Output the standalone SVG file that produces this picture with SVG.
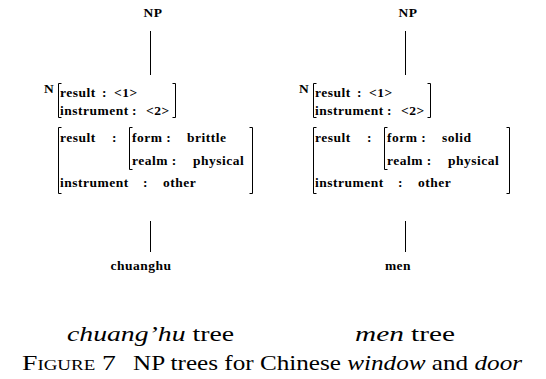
<svg xmlns="http://www.w3.org/2000/svg" width="546" height="379" viewBox="0 0 546 379">
  <style>
    .lbl { font-family: 'Liberation Serif', 'DejaVu Serif', serif; font-weight: bold; font-size: 13.5px; letter-spacing: 0.5px; fill: #000; }
    .cap { font-family: 'Liberation Serif', 'DejaVu Serif', serif; font-size: 22px; fill: #000; }
    .it { font-style: italic; }
    .sc { font-variant: small-caps; }
    .edge { stroke: #000; stroke-width: 1; fill: none; }
    .brk { stroke: #000; stroke-width: 1; fill: none; }
  </style>

  <!-- connectors of both trees -->
  <g id="connectors">
    <line class="edge" x1="150.5" y1="31" x2="150.5" y2="75"/>
    <line class="edge" x1="150.5" y1="221" x2="150.5" y2="252"/>
    <line class="edge" x1="405.5" y1="31" x2="405.5" y2="75"/>
    <line class="edge" x1="405.5" y1="221" x2="405.5" y2="252"/>
  </g>

  <!-- chuanghu tree -->
  <g id="np-left">
    <text class="lbl" x="153" y="17" text-anchor="middle">NP</text>
  </g>
  <g id="n-left">
    <text class="lbl" x="44" y="93">N</text>
    <path class="brk" d="M61.5,83.5 H58.5 V117.5 H61.5"/>
    <path class="brk" d="M172.5,83.5 H175.5 V117.5 H172.5"/>
    <text class="lbl" x="60" y="97">result</text>
    <text class="lbl" x="102" y="97">:</text>
    <text class="lbl" x="114" y="97">&lt;1&gt;</text>
    <text class="lbl" x="60" y="115">instrument</text>
    <text class="lbl" x="132" y="115">:</text>
    <text class="lbl" x="146" y="115">&lt;2&gt;</text>
    <path class="brk" d="M61.5,127.5 H58.5 V193.5 H61.5"/>
    <path class="brk" d="M249.5,127.5 H252.5 V193.5 H249.5"/>
    <text class="lbl" x="60" y="142">result</text>
    <text class="lbl" x="112" y="142">:</text>
    <path class="brk" d="M132.5,127.5 H129.5 V169.5 H132.5"/>
    <text class="lbl" x="132" y="142">form :</text>
    <text class="lbl" x="187" y="142">brittle</text>
    <text class="lbl" x="132" y="165">realm :</text>
    <text class="lbl" x="193" y="165">physical</text>
    <text class="lbl" x="60" y="187">instrument</text>
    <text class="lbl" x="143" y="187">:</text>
    <text class="lbl" x="163" y="187">other</text>
  </g>
  <g id="word-left">
    <text class="lbl" x="141" y="270" text-anchor="middle">chuanghu</text>
  </g>

  <!-- men tree -->
  <g id="np-right">
    <text class="lbl" x="408" y="17" text-anchor="middle">NP</text>
  </g>
  <g id="n-right">
    <text class="lbl" x="299" y="93">N</text>
    <path class="brk" d="M316.5,83.5 H313.5 V117.5 H316.5"/>
    <path class="brk" d="M427.5,83.5 H430.5 V117.5 H427.5"/>
    <text class="lbl" x="315" y="97">result</text>
    <text class="lbl" x="357" y="97">:</text>
    <text class="lbl" x="369" y="97">&lt;1&gt;</text>
    <text class="lbl" x="315" y="115">instrument</text>
    <text class="lbl" x="387" y="115">:</text>
    <text class="lbl" x="401" y="115">&lt;2&gt;</text>
    <path class="brk" d="M316.5,127.5 H313.5 V193.5 H316.5"/>
    <path class="brk" d="M506.5,127.5 H509.5 V193.5 H506.5"/>
    <text class="lbl" x="315" y="142">result</text>
    <text class="lbl" x="367" y="142">:</text>
    <path class="brk" d="M387.5,127.5 H384.5 V169.5 H387.5"/>
    <text class="lbl" x="387" y="142">form :</text>
    <text class="lbl" x="442" y="142">solid</text>
    <text class="lbl" x="387" y="165">realm :</text>
    <text class="lbl" x="448" y="165">physical</text>
    <text class="lbl" x="315" y="187">instrument</text>
    <text class="lbl" x="398" y="187">:</text>
    <text class="lbl" x="418" y="187">other</text>
  </g>
  <g id="word-right">
    <text class="lbl" x="398" y="270" text-anchor="middle">men</text>
  </g>

  <!-- captions -->
  <text class="cap" x="67" y="341" textLength="167" lengthAdjust="spacingAndGlyphs"><tspan class="it">chuang’hu</tspan> tree</text>
  <text class="cap" x="355" y="341" textLength="100" lengthAdjust="spacingAndGlyphs"><tspan class="it">men</tspan> tree</text>
  <text class="cap sc" x="22" y="370" textLength="94" lengthAdjust="spacingAndGlyphs">Figure 7</text>
  <text class="cap" x="133" y="370" textLength="389" lengthAdjust="spacingAndGlyphs">NP trees for Chinese <tspan class="it">window</tspan> and <tspan class="it">door</tspan></text>
</svg>
